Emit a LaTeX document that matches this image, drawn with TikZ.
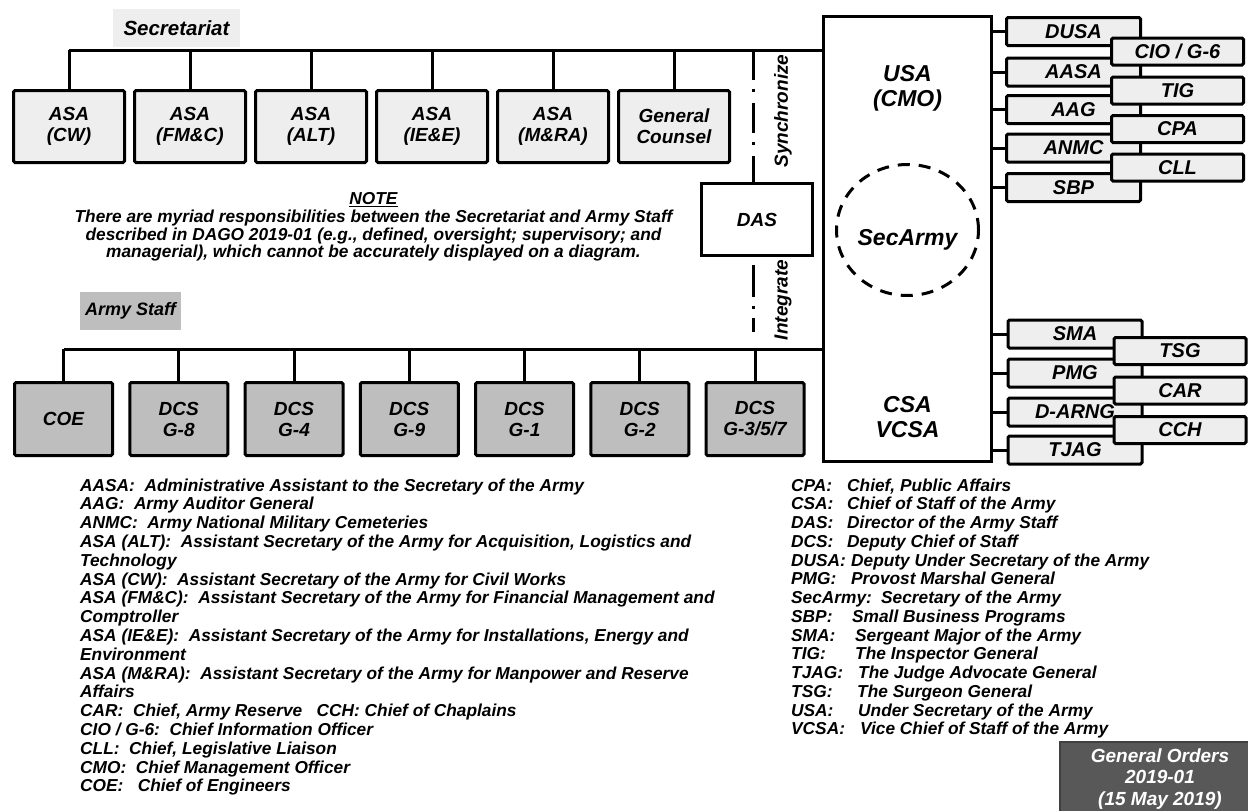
\documentclass[tikz,border=0pt]{standalone}
\usepackage{fontspec}
\setmainfont{Liberation Sans}
\usetikzlibrary{calc, shapes.geometric}
\tikzset{>=latex}
\definecolor{lightgray1}{RGB}{238, 238, 238}
\definecolor{midgray1}{RGB}{190, 190, 190}
\definecolor{darkgray1}{RGB}{88, 88, 88}

\begin{document}
\begin{tikzpicture}[
    x = 1pt, y = -1pt,
    ln/.style = {line width = 3pt},
    lbl/.style = {font = \fontsize{19}{21}\selectfont\bfseries\itshape},
    secbox/.style = {draw, ln, lbl, rounded corners = 1.5pt, fill = lightgray1, minimum width = 111pt, minimum height = 72pt, align = center, inner sep = 0pt},
    staffbox/.style = {secbox, fill = midgray1, minimum width = 98pt, minimum height = 73pt},
    sidebox/.style = {draw, ln, rounded corners = 1.5pt, fill = lightgray1, minimum width = 134pt, minimum height = 28pt, inner sep = 0pt, font = \fontsize{20}{22}\selectfont\bfseries\itshape},
    outbox/.style = {sidebox, minimum width = 132pt, minimum height = 27pt},
    hqtext/.style = {align = center, inner sep = 0pt, font = \fontsize{23}{25}\selectfont\bfseries\itshape},
    legend/.style = {anchor = base west, inner sep = 0pt, font = \fontsize{17.3}{18.8}\selectfont\bfseries\itshape},
    syncline/.style = {ln, dash pattern = on 30pt off 9pt on 3pt off 11pt},
    integline/.style = {ln, dash pattern = on 32pt off 9pt on 3pt off 9pt on 14pt off 40pt, dash phase = 99pt},
]

\fill[white] (0,0) rectangle (1248,811);
\useasboundingbox (0,0) rectangle (1248,811);

% headquarters block
\node[draw, ln, fill = white, minimum width = 168pt, minimum height = 445pt] (hq) at (907.5, 239) {};
\node[hqtext] (usa) at (907.5, 88) {USA\\(CMO)};
\node[hqtext] (csa) at (907.5, 417) {CSA\\VCSA};
\node[draw, ln, dash pattern = on 12pt off 9pt, ellipse, minimum width = 142pt, minimum height = 131pt, inner sep = 0pt] (secarmy) at (907.5, 230) {};
\node[hqtext] (secarmytxt) at (907.5, 240) {SecArmy};

% secretariat
\node[fill = lightgray1, minimum width = 127pt, minimum height = 38pt, font = \fontsize{20.5}{22}\selectfont\bfseries\itshape] (sec) at (176.5, 28) {Secretariat};
\coordinate (sectop) at (69, 50);
\draw[ln] (sectop) -- (sectop -| hq.west);

\foreach \name/\txt [count=\i from 0] in {asacw/{ASA\\(CW)}, asafmc/{ASA\\(FM\&C)}, asaalt/{ASA\\(ALT)}, asaiee/{ASA\\(IE\&E)}, asamra/{ASA\\(M\&RA)}, gc/{General\\Counsel}}
{
  \node[secbox] (\name) at (69+121*\i, 126.5) {\txt};
  \draw[ln] (\name.north) -- (\name.north |- sectop);
}

% army staff
\node[fill = midgray1, minimum width = 101pt, minimum height = 38pt, font = \fontsize{18}{20}\selectfont\bfseries\itshape] (staff) at (130.5, 311) {Army Staff};
\coordinate (stafftop) at (64, 349);
\draw[ln] (stafftop) -- (stafftop -| hq.west);

\foreach \name/\txt [count=\i from 0] in {coe/COE, dcsg8/{DCS\\G-8}, dcsg4/{DCS\\G-4}, dcsg9/{DCS\\G-9}, dcsg1/{DCS\\G-1}, dcsg2/{DCS\\G-2}, dcsg357/{DCS\\G-3/5/7}}
{
  \node[staffbox] (\name) at (63.5+115.25*\i, 419) {\txt};
  \draw[ln] (\name.north) -- (\name.north |- stafftop);
}

% director of the army staff
\node[draw, ln, lbl, fill = white, minimum width = 111pt, minimum height = 72pt] (das) at (757, 219.5) {DAS};
\draw[syncline] ([xshift=-4pt]das.north |- sectop) -- ([xshift=-4pt]das.north);
\draw[integline] ([xshift=-4pt]das.south) -- ([xshift=-4pt]das.south |- stafftop);
\node[lbl, rotate = 90] (sync) at (783, 111) {Synchronize};
\node[lbl, rotate = 90] (integ) at (783, 300) {Integrate};

% note
\node[align = center, font = \fontsize{17.3}{17.7}\selectfont\bfseries\itshape] (note) at (373.5, 227)
  {\underline{NOTE}\\There are myriad responsibilities between the Secretariat and Army Staff\\described in DAGO 2019-01 (e.g., defined, oversight; supervisory; and\\managerial), which cannot be accurately displayed on a diagram.};

% offices of the USA
\foreach \name/\txt/\yy in {dusa/DUSA/31.5, aasa/AASA/72, aag/AAG/109.5, anmc/ANMC/148, sbp/SBP/187.5}
{
  \node[sidebox] (\name) at (1073.5, \yy) {\txt};
  \draw[ln] (\name.west) -- (\name.west -| hq.east);
}
\foreach \name/\txt/\yy in {cio/{CIO / G-6}/51.5, tig/TIG/90.5, cpa/CPA/129, cll/CLL/167.5}
  \node[outbox] (\name) at (1177.5, \yy) {\txt};

% offices of the CSA
\foreach \name/\txt/\yy in {sma/SMA/334, pmg/PMG/373, darng/D-ARNG/412, tjag/TJAG/450}
{
  \node[sidebox] (\name) at (1075, \yy) {\txt};
  \draw[ln] (\name.west) -- (\name.west -| hq.east);
}
\foreach \name/\txt/\yy in {tsg/TSG/351, car/CAR/390.5, cch/CCH/430}
  \node[outbox] (\name) at (1180, \yy) {\txt};

% abbreviations
\foreach \txt [count=\k from 0] in {
  {AASA:\ \ Administrative Assistant to the Secretary of the Army},
  {AAG:\ \ Army Auditor General},
  {ANMC:\ \ Army National Military Cemeteries},
  {ASA (ALT):\ \ Assistant Secretary of the Army for Acquisition, Logistics and},
  {Technology},
  {ASA (CW):\ \ Assistant Secretary of the Army for Civil Works},
  {ASA (FM\&C):\ \ Assistant Secretary of the Army for Financial Management and},
  {Comptroller},
  {ASA (IE\&E):\ \ Assistant Secretary of the Army for Installations, Energy and},
  {Environment},
  {ASA (M\&RA):\ \ Assistant Secretary of the Army for Manpower and Reserve},
  {Affairs},
  {CAR:\ \ Chief, Army Reserve\ \ \ CCH: Chief of Chaplains},
  {CIO / G-6:\ \ Chief Information Officer},
  {CLL:\ \ Chief, Legislative Liaison},
  {CMO:\ \ Chief Management Officer},
  {COE:\ \ \ Chief of Engineers}}
  \node[legend] (la\k) at (80, 491+18.8*\k) {\txt};

\foreach \abbr/\desc/\dx [count=\k from 0] in {
  CPA:/{Chief, Public Affairs}/847,
  CSA:/{Chief of Staff of the Army}/847,
  DAS:/{Director of the Army Staff}/847,
  DCS:/{Deputy Chief of Staff}/847,
  DUSA:/{Deputy Under Secretary of the Army}/851,
  PMG:/{Provost Marshal General}/851,
  SecArmy:/{Secretary of the Army}/881,
  SBP:/{Small Business Programs}/852,
  SMA:/{Sergeant Major of the Army}/855,
  TIG:/{The Inspector General}/855,
  TJAG:/{The Judge Advocate General}/858,
  TSG:/{The Surgeon General}/857,
  USA:/{Under Secretary of the Army}/858,
  VCSA:/{Vice Chief of Staff of the Army}/860}
{
  \node[legend] (ra\k) at (791, 491+18.75*\k) {\abbr};
  \node[legend] (rd\k) at (\dx, 491+18.75*\k) {\desc};
}

% general orders stamp
\node[fill = darkgray1, draw = black!75, line width = 2pt, minimum width = 200pt, minimum height = 74pt, align = center, text = white, font = \fontsize{19}{21.5}\selectfont\bfseries\itshape] (go) at (1160, 779) {General Orders\\2019-01\\(15 May 2019)};

\end{tikzpicture}
\end{document}
